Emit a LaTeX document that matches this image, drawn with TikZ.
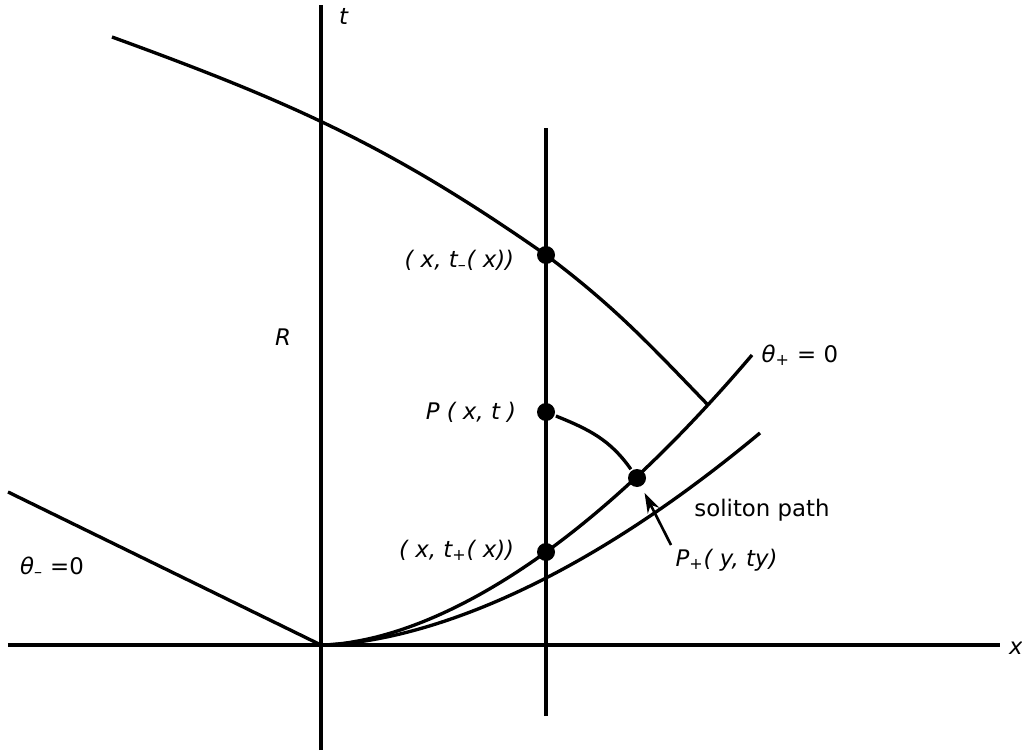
\documentclass[tikz,border=0pt]{standalone}
\usepackage{fontspec}
\setmainfont{DejaVu Sans}
\usetikzlibrary{arrows.meta,positioning}

\begin{document}
\begin{tikzpicture}[x=0.2mm, y=0.2mm, line width=1.9pt,
    dot/.style={circle, fill=black, inner sep=0pt, minimum size=3.6mm},
    lbl/.style={inner sep=0pt, font=\fontsize{13}{15}\selectfont},
    arr/.style={-{Stealth[length=4mm, width=2.6mm]}, line width=1.5pt}]
  \useasboundingbox (-321,-109) rectangle (701,645);

  % Axes
  \coordinate (xl) at (-313,0);
  \coordinate (xr) at (679,0);
  \coordinate (tb) at (0,-105);
  \coordinate (tt) at (0,640);
  \coordinate (vb) at (225,-71);
  \coordinate (vt) at (225,517);
  \draw (xl) -- (xr);
  \draw (tb) -- (tt);
  \draw (vb) -- (vt);

  % Curves
  \coordinate (o) at (0,0);
  \coordinate (ml) at (-313,153);
  \coordinate (ul) at (-209,608);
  \coordinate (meet) at (387,240);
  \coordinate (pend) at (431,{93*(431/225)^1.75});
  \draw (ml) -- (o);
  \draw (ul) to[out=-20, in=145] (225,390) to[out=-37, in=134] (meet);
  \draw plot[domain=0.5:431, samples=80] (\x, {93*(\x/225)^1.75});
  \draw plot[domain=0.5:439, samples=80] (\x, {67*(\x/225)^1.724});

  % Points
  \node[dot] (tm) at (225,390) {};
  \node[dot] (p) at (225,233) {};
  \node[dot] (tp) at (225,93) {};
  \node[dot] (pp) at (316,167) {};
  \draw (p) to[out=-22, in=125] (pp);

  % Labels
  \node[lbl, left=3.9mm of tm, yshift=-1mm] (tmlbl) {\textit{( x, t\textsubscript{–}( x))}};
  \node[lbl, left=3.5mm of p] (plbl) {\textit{P ( x, t )}};
  \node[lbl, left=3.9mm of tp, yshift=0.4mm] (tplbl) {\textit{( x, t\textsubscript{+}( x))}};
  \node[lbl, anchor=north west] (pplbl) at (353,98) {\textit{P\textsubscript{+}( y, ty)}};
  \node[lbl] (slbl) at (441,135) {soliton path};
  \node[lbl, right=1.6mm of pend] (thplbl) {\textit{θ\textsubscript{+}} = 0};
  \node[lbl] (thmlbl) at (-269,78) {\textit{θ\textsubscript{–}} =0};
  \node[lbl] (rlbl) at (-38,308) {\textit{R}};
  \node[lbl] (tlbl) at (23,629) {\textit{t}};
  \node[lbl] (xlbl) at (695,-3) {\textit{x}};

  % Arrow
  \draw[arr, shorten >=1.2mm] ([xshift=-0.6mm, yshift=0.4mm]pplbl.north west) -- (pp);
\end{tikzpicture}
\end{document}
